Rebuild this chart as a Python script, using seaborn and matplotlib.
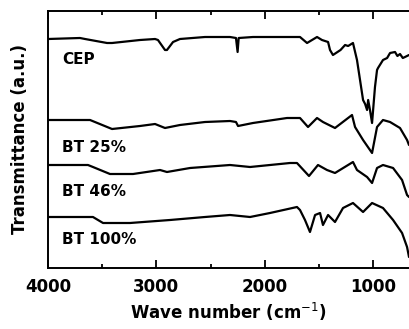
import numpy as np
import pandas as pd
import matplotlib
matplotlib.use("Agg")
import matplotlib.pyplot as plt
import seaborn as sns
from matplotlib.ticker import MultipleLocator

# ---- data (arbitrary transmittance units) ----
cep_wn = [4000, 3705, 3658, 3455, 3409, 3151, 3012, 2985, 2920, 2902, 2846, 2782, 2551, 2320,
          2265, 2250, 2240, 2108, 1794, 1674, 1609, 1517, 1471, 1415, 1397, 1370, 1342, 1300,
          1258, 1230, 1185, 1148, 1120, 1092, 1073, 1055, 1045, 1028, 1009, 982, 963, 954, 908,
          870, 843, 797, 775, 751, 725, 705, 668]
cep_t = [229, 230, 229, 225, 225, 228, 229, 228, 218, 218, 226, 229, 231, 231,
         230, 216, 230, 231, 231, 231, 225, 231, 228, 226, 218, 213, 215, 218,
         223, 222, 225, 208, 188, 168, 164, 158, 168, 158, 145, 181, 198, 200, 208,
         210, 215, 216, 212, 214, 210, 211, 213]

bt25_wn = [4000, 3612, 3409, 3151, 3012, 2920, 2782, 2551, 2320, 2265, 2246, 2108, 1794, 1674,
           1600, 1517, 1462, 1351, 1194, 1166, 1092, 1009, 963, 908, 843, 751, 686, 668]
bt25_t = [148, 148, 139, 142, 144, 140, 143, 146, 147, 146, 142, 145, 150, 150,
          141, 150, 146, 140, 153, 141, 128, 115, 141, 148, 146, 140, 128, 123]

bt46_wn = [4000, 3631, 3585, 3428, 3215, 2966, 2902, 2689, 2320, 2135, 1766, 1702, 1591, 1508,
           1425, 1351, 1185, 1148, 1055, 1009, 963, 908, 815, 732, 686, 668]
bt46_t = [103, 103, 101, 94, 94, 98, 96, 100, 103, 101, 105, 105, 92, 103,
          98, 95, 106, 98, 91, 85, 100, 103, 100, 88, 73, 71]

bt100_wn = [4000, 3585, 3492, 3243, 2874, 2551, 2320, 2135, 1951, 1702, 1674, 1628, 1582, 1535,
            1489, 1462, 1415, 1351, 1277, 1185, 1092, 1009, 908, 815, 732, 686, 668]
bt100_t = [51, 51, 45, 45, 48, 51, 53, 51, 55, 61, 58, 48, 36, 53,
           55, 43, 53, 46, 60, 65, 56, 65, 60, 48, 35, 21, 11]

series_names = ["CEP", "BT 25%", "BT 46%", "BT 100%"]
x_ticks = [4000, 3000, 2000, 1000]
x_label = "Wave number (cm$^{-1}$)"
y_label = "Transmittance (a.u.)"

frames = []
for name, wn, t in zip(series_names, [cep_wn, bt25_wn, bt46_wn, bt100_wn],
                       [cep_t, bt25_t, bt46_t, bt100_t]):
    frames.append(pd.DataFrame({"wn": wn, "T": t, "sample": name}))
df = pd.concat(frames, ignore_index=True)

sns.set_style("ticks")
plt.rcParams["font.family"] = ["DejaVu Sans"]
plt.rcParams["text.color"] = "black"
plt.rcParams["axes.labelcolor"] = "black"
plt.rcParams["xtick.color"] = "black"
plt.rcParams["ytick.color"] = "black"

fig = plt.figure(figsize=(4.09, 3.29), dpi=100)
ax = fig.add_axes([48 / 409, 61 / 329, 1 - 48 / 409, 257 / 329])

sns.lineplot(data=df, x="wn", y="T", hue="sample", units="sample", estimator=None,
             palette=["black"] * 4, legend=False, linewidth=1.6, ax=ax)

ax.set_xlim(4000, 668)
ax.set_ylim(0, 257)
ax.set_xticks(x_ticks)
ax.set_xticklabels([str(v) for v in x_ticks])
ax.xaxis.set_minor_locator(MultipleLocator(500))
ax.set_yticks([])
ax.tick_params(axis="x", which="major", direction="in", length=6, width=1.3,
               top=True, bottom=True, labelsize=12, pad=7)
ax.tick_params(axis="x", which="minor", direction="in", length=3, width=1.3,
               top=True, bottom=True)
for lab in ax.get_xticklabels():
    lab.set_fontweight("bold")
ax.spines["right"].set_visible(False)
for s in ["left", "top", "bottom"]:
    ax.spines[s].set_linewidth(1.4)
    ax.spines[s].set_color("black")

ax.set_xlabel(x_label, fontsize=12, fontweight="bold", labelpad=4)
ax.set_ylabel(y_label, fontsize=12, fontweight="bold", labelpad=14)

label_y = [208, 121, 76, 28]
for name, ly in zip(series_names, label_y):
    ax.text(3870, ly, name, fontsize=11, fontweight="bold", va="center", ha="left")

fig.savefig("out.png", dpi=100)
